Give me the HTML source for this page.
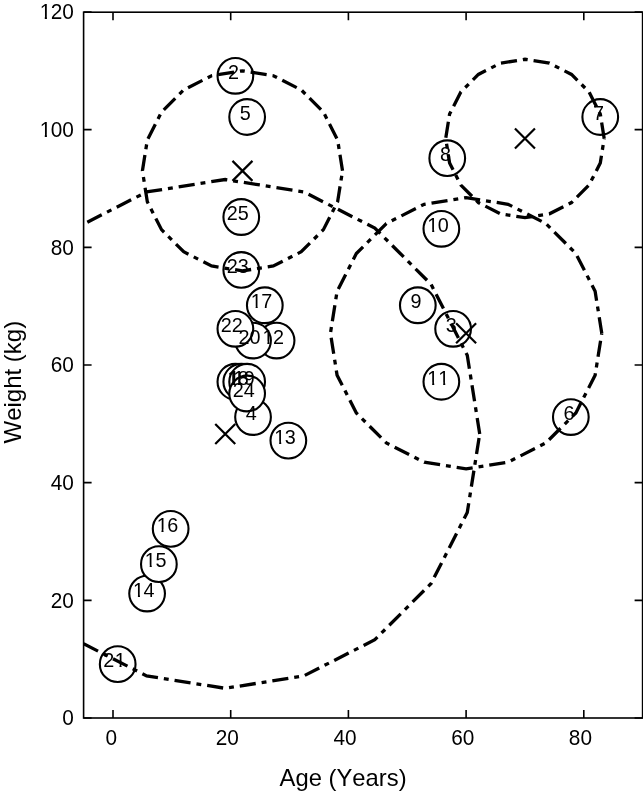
<!DOCTYPE html>
<html><head><meta charset="utf-8"><style>html,body{margin:0;padding:0;background:#fff;overflow:hidden}svg{display:block;will-change:transform}text{font-kerning:none}</style></head>
<body>
<svg width="643" height="791" viewBox="0 0 643 791">
<rect width="643" height="791" fill="#fff"/>
<defs><clipPath id="ax"><rect x="83.6" y="12.2" width="559.0" height="705.8"/></clipPath></defs>
<g stroke="#000" stroke-width="1.6" fill="none">
<rect x="83.6" y="12.2" width="559.0" height="705.8"/>
<path d="M113.00 718.0V710.0M113.00 12.2V20.2"/>
<path d="M230.70 718.0V710.0M230.70 12.2V20.2"/>
<path d="M348.40 718.0V710.0M348.40 12.2V20.2"/>
<path d="M466.10 718.0V710.0M466.10 12.2V20.2"/>
<path d="M583.80 718.0V710.0M583.80 12.2V20.2"/>
<path d="M83.6 718.00H91.6M642.6 718.00H634.6"/>
<path d="M83.6 600.33H91.6M642.6 600.33H634.6"/>
<path d="M83.6 482.67H91.6M642.6 482.67H634.6"/>
<path d="M83.6 365.00H91.6M642.6 365.00H634.6"/>
<path d="M83.6 247.34H91.6M642.6 247.34H634.6"/>
<path d="M83.6 129.67H91.6M642.6 129.67H634.6"/>
<path d="M83.6 12.00H91.6M642.6 12.00H634.6"/>
</g>
<g font-family="'Liberation Sans', sans-serif" font-size="20.8" fill="#000">
<text transform="translate(105.52 745) scale(1 1.04)">0</text>
<text transform="translate(215.73 745) scale(1 1.04)">20</text>
<text transform="translate(333.43 745) scale(1 1.04)">40</text>
<text transform="translate(451.13 745) scale(1 1.04)">60</text>
<text transform="translate(568.83 745) scale(1 1.04)">80</text>
<text transform="translate(62.33 725.30) scale(1 1.04)">0</text>
<text transform="translate(50.76 607.63) scale(1 1.04)">20</text>
<text transform="translate(50.76 489.97) scale(1 1.04)">40</text>
<text transform="translate(50.76 372.30) scale(1 1.04)">60</text>
<text transform="translate(50.76 254.64) scale(1 1.04)">80</text>
<text transform="translate(39.20 136.97) scale(1 1.04)" mask="url(#f0)"><tspan dx="0.5">1</tspan><tspan dx="-0.5">0</tspan>0</text>
<text transform="translate(39.20 19.30) scale(1 1.04)" mask="url(#f0)"><tspan dx="0.5">1</tspan><tspan dx="-0.5">2</tspan>0</text>
</g>
<text font-family="'Liberation Sans', sans-serif" font-size="23.8" x="279.6" y="786">Age (Years)</text>
<text font-family="'Liberation Sans', sans-serif" font-size="24" transform="translate(20.8 443.5) rotate(-90)">Weight (kg)</text>
<g clip-path="url(#ax)">
<g stroke="#000" stroke-width="2.1" fill="#fff">
<circle cx="235.38" cy="381.75" r="17.85"/>
<circle cx="235.38" cy="75.82" r="17.85"/>
<circle cx="453.13" cy="328.80" r="17.85"/>
<circle cx="253.04" cy="417.05" r="17.85"/>
<circle cx="247.15" cy="117.00" r="17.85"/>
<circle cx="570.83" cy="417.05" r="17.85"/>
<circle cx="600.25" cy="117.00" r="17.85"/>
<circle cx="447.25" cy="158.19" r="17.85"/>
<circle cx="417.82" cy="305.27" r="17.85"/>
<circle cx="441.36" cy="228.79" r="17.85"/>
<circle cx="441.36" cy="381.75" r="17.85"/>
<circle cx="276.58" cy="340.57" r="17.85"/>
<circle cx="288.35" cy="440.58" r="17.85"/>
<circle cx="147.11" cy="593.55" r="17.85"/>
<circle cx="158.88" cy="564.13" r="17.85"/>
<circle cx="170.65" cy="528.83" r="17.85"/>
<circle cx="264.81" cy="305.27" r="17.85"/>
<circle cx="241.27" cy="381.75" r="17.85"/>
<circle cx="247.15" cy="381.75" r="17.85"/>
<circle cx="253.04" cy="340.57" r="17.85"/>
<circle cx="117.69" cy="664.15" r="17.85"/>
<circle cx="235.38" cy="328.80" r="17.85"/>
<circle cx="241.27" cy="269.97" r="17.85"/>
<circle cx="247.15" cy="393.52" r="17.85"/>
<circle cx="241.27" cy="217.02" r="17.85"/>
</g>
<g font-family="'Liberation Sans', sans-serif" font-size="19.8" fill="#000">
<text transform="translate(228.08 384.86)" mask="url(#f1)"><tspan dx="0.5">1</tspan></text>
<text transform="translate(228.08 78.93)">2</text>
<text transform="translate(445.82 331.91)">3</text>
<text transform="translate(245.73 420.16)">4</text>
<text transform="translate(239.85 120.11)">5</text>
<text transform="translate(563.52 420.16)">6</text>
<text transform="translate(592.95 120.11)">7</text>
<text transform="translate(439.94 161.30)">8</text>
<text transform="translate(410.51 308.38)">9</text>
<text transform="translate(426.85 231.90)" mask="url(#f2)"><tspan dx="0.5">1</tspan><tspan dx="-0.5">0</tspan></text>
<text transform="translate(426.85 384.86)" mask="url(#f3)"><tspan dx="0.5">1</tspan>1</text>
<text transform="translate(262.07 343.68)" mask="url(#f2)"><tspan dx="0.5">1</tspan><tspan dx="-0.5">2</tspan></text>
<text transform="translate(273.84 443.70)" mask="url(#f2)"><tspan dx="0.5">1</tspan><tspan dx="-0.5">3</tspan></text>
<text transform="translate(132.60 596.66)" mask="url(#f2)"><tspan dx="0.5">1</tspan><tspan dx="-0.5">4</tspan></text>
<text transform="translate(144.37 567.24)" mask="url(#f2)"><tspan dx="0.5">1</tspan><tspan dx="-0.5">5</tspan></text>
<text transform="translate(156.14 531.94)" mask="url(#f2)"><tspan dx="0.5">1</tspan><tspan dx="-0.5">6</tspan></text>
<text transform="translate(250.30 308.38)" mask="url(#f2)"><tspan dx="0.5">1</tspan><tspan dx="-0.5">7</tspan></text>
<text transform="translate(226.76 384.86)" mask="url(#f2)"><tspan dx="0.5">1</tspan><tspan dx="-0.5">8</tspan></text>
<text transform="translate(232.64 384.86)" mask="url(#f2)"><tspan dx="0.5">1</tspan><tspan dx="-0.5">9</tspan></text>
<text transform="translate(238.53 343.68)">20</text>
<text transform="translate(103.17 667.26)" mask="url(#f4)">2<tspan dx="0.5">1</tspan></text>
<text transform="translate(220.87 331.91)">22</text>
<text transform="translate(226.76 273.08)">23</text>
<text transform="translate(232.64 396.63)">24</text>
<text transform="translate(226.76 220.13)">25</text>
</g>
<g stroke="#000" stroke-width="2.2" fill="none">
<path d="M232.47 160.85L252.47 180.85M232.47 180.85L252.47 160.85"/>
<path d="M215.24 423.92L235.24 443.92M215.24 443.92L235.24 423.92"/>
<path d="M514.95 128.49L534.95 148.49M514.95 148.49L534.95 128.49"/>
<path d="M456.10 323.23L476.10 343.23M456.10 343.23L476.10 323.23"/>
</g>
<g stroke="#000" stroke-width="3.3" fill="none" stroke-dasharray="16.2 5.95 4.9 5.95" stroke-linejoin="miter">
<path d="M342.51 170.85 L337.62 139.95 L323.41 112.07 L301.27 89.94 L273.39 75.73 L242.47 70.84 L211.55 75.73 L183.67 89.94 L161.53 112.07 L147.32 139.95 L142.43 170.85 L147.32 201.76 L161.53 229.64 L183.67 251.77 L211.55 265.97 L242.47 270.87 L273.39 265.97 L301.27 251.77 L323.41 229.64 L337.62 201.76 L342.51 170.85"/>
<path d="M479.72 433.92 L467.26 355.30 L431.12 284.38 L374.82 228.10 L303.88 191.96 L225.24 179.51 L146.60 191.96 L83.60 224.05"/>
<path d="M83.60 643.79 L146.60 675.88 L225.24 688.33 L303.88 675.88 L374.82 639.74 L431.12 583.46 L467.26 512.54 L479.72 433.92"/>
<path d="M604.18 138.49 L600.30 114.02 L589.05 91.94 L571.52 74.42 L549.43 63.17 L524.95 59.29 L500.47 63.17 L478.38 74.42 L460.85 91.94 L449.60 114.02 L445.72 138.49 L449.60 162.97 L460.85 185.05 L478.38 202.57 L500.47 213.82 L524.95 217.70 L549.43 213.82 L571.52 202.57 L589.05 185.05 L600.30 162.97 L604.18 138.49"/>
<path d="M601.76 333.23 L595.12 291.32 L575.85 253.52 L545.84 223.52 L508.02 204.25 L466.10 197.61 L424.18 204.25 L386.36 223.52 L356.35 253.52 L337.08 291.32 L330.44 333.23 L337.08 375.14 L356.35 412.95 L386.36 442.95 L424.18 462.21 L466.10 468.85 L508.02 462.21 L545.84 442.95 L575.85 412.95 L595.12 375.14 L601.76 333.23"/>
</g>
</g>
<defs><mask id="f0" maskUnits="userSpaceOnUse" x="-60" y="-60" width="120" height="120"><rect x="-60" y="-60" width="120" height="120" fill="#fff"/><rect x="0.88" y="-2.45" width="4.70" height="4.25" fill="#000"/><rect x="7.72" y="-2.45" width="4.68" height="4.25" fill="#000"/></mask><mask id="f1" maskUnits="userSpaceOnUse" x="-60" y="-60" width="120" height="120"><rect x="-60" y="-60" width="120" height="120" fill="#fff"/><rect x="0.80" y="-2.38" width="4.52" height="4.18" fill="#000"/><rect x="7.38" y="-2.38" width="4.51" height="4.18" fill="#000"/></mask><mask id="f2" maskUnits="userSpaceOnUse" x="-60" y="-60" width="120" height="120"><rect x="-60" y="-60" width="120" height="120" fill="#fff"/><rect x="0.80" y="-2.38" width="4.52" height="4.18" fill="#000"/><rect x="7.38" y="-2.38" width="4.51" height="4.18" fill="#000"/></mask><mask id="f3" maskUnits="userSpaceOnUse" x="-60" y="-60" width="120" height="120"><rect x="-60" y="-60" width="120" height="120" fill="#fff"/><rect x="0.80" y="-2.38" width="4.52" height="4.18" fill="#000"/><rect x="7.38" y="-2.38" width="4.51" height="4.18" fill="#000"/><rect x="11.82" y="-2.38" width="4.52" height="4.18" fill="#000"/><rect x="18.39" y="-2.38" width="4.51" height="4.18" fill="#000"/></mask><mask id="f4" maskUnits="userSpaceOnUse" x="-60" y="-60" width="120" height="120"><rect x="-60" y="-60" width="120" height="120" fill="#fff"/><rect x="11.82" y="-2.38" width="4.52" height="4.18" fill="#000"/><rect x="18.39" y="-2.38" width="4.51" height="4.18" fill="#000"/></mask></defs>
</svg>
</body></html>
